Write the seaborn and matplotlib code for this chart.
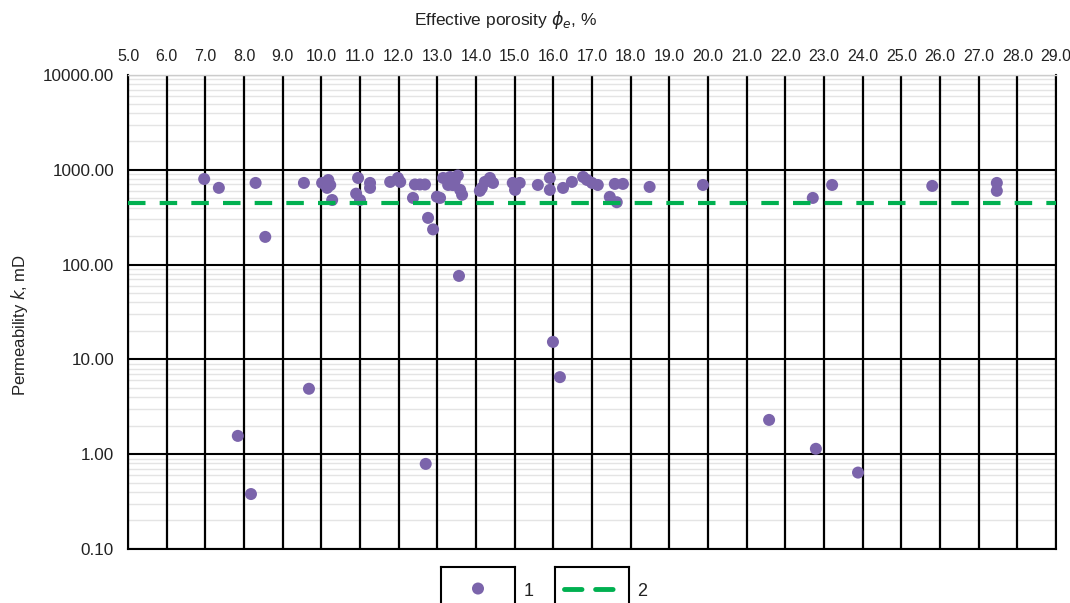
import numpy as np
import pandas as pd
import matplotlib
matplotlib.use("Agg")
import matplotlib.pyplot as plt
import seaborn as sns

# ---- data ----
porosity = [6.97, 7.35, 8.30, 8.55, 7.84, 8.18, 9.55, 9.68,
            10.02, 10.18, 10.23, 10.15, 10.28, 10.95, 10.90, 11.00,
            11.26, 11.26, 11.78, 11.98, 12.04, 12.42, 12.55, 12.68, 12.37,
            12.76, 12.89, 12.70, 13.56, 12.99, 13.07, 13.15, 13.33, 13.53,
            13.40, 13.59, 13.64, 13.28, 13.45, 14.10, 14.15, 14.23, 14.36, 14.44,
            14.95, 15.01, 15.13, 15.60, 15.91, 15.91, 16.25, 16.48, 16.77,
            16.87, 17.00, 17.15, 17.46, 17.64, 17.59, 17.80, 18.49, 19.87,
            15.99, 16.17, 21.58, 22.71, 22.79, 23.21, 23.88, 25.80, 27.47, 27.47]
permeability = [800, 645, 727, 196, 1.56, 0.38, 727, 4.9,
                727, 780, 690, 645, 480, 820, 560, 480,
                727, 645, 745, 820, 745, 700, 700, 700, 505,
                311, 235, 0.79, 76, 520, 505, 820, 840, 870,
                690, 614, 545, 692, 760, 600, 644, 745, 820, 727,
                727, 614, 727, 692, 820, 614, 644, 745, 841,
                782, 727, 692, 518, 455, 710, 710, 660, 692,
                15.3, 6.5, 2.3, 505, 1.14, 692, 0.64, 676, 727, 600]
k_cutoff = 450
x_ticks = np.arange(5, 30, 1)
y_ticks = [0.1, 1, 10, 100, 1000, 10000]
legend_labels = ["1", "2"]

purple = "#7B64AB"
green = "#00B050"

sns.set_style("white")
plt.rcParams["font.family"] = ["Liberation Sans", "DejaVu Sans"]

fig = plt.figure(figsize=(10.70, 6.03), dpi=100)
ax = fig.add_axes([128/1070, 1 - 549/603, (1056-128)/1070, (549-75)/603])

df = pd.DataFrame({"phi": porosity, "k": permeability})
ax.set_yscale("log")
ax.set_xlim(5, 29)
ax.set_ylim(0.1, 10000)

# grid
ax.set_axisbelow(True)
ax.yaxis.set_minor_locator(matplotlib.ticker.LogLocator(base=10, subs=np.arange(2, 10)))
ax.grid(which="minor", axis="y", color="#e4e4e4", lw=1.0)
ax.grid(False, axis="x")
for xv in x_ticks:
    ax.axvline(xv, color="black", lw=1.6, zorder=1.2)
for yv in y_ticks:
    ax.axhline(yv, color="black", lw=1.5, zorder=1.2)

sns.scatterplot(data=df, x="phi", y="k", ax=ax, color=purple, s=75,
                edgecolor="none", linewidth=0, zorder=3, legend=False)
ax.axhline(k_cutoff, color=green, lw=3, dashes=(4.2, 3.4), zorder=4)

# ticks
ax.xaxis.tick_top()
ax.set_xticks(x_ticks)
ax.set_xticklabels([f"{v:.1f}" for v in x_ticks], fontsize=11.5)
ax.set_yticks(y_ticks)
ax.set_yticklabels([f"{v:.2f}" for v in y_ticks], fontsize=12.3)
ax.tick_params(axis="x", which="both", length=0, pad=8, colors="#222222")
ax.tick_params(axis="y", which="both", length=0, pad=10, colors="#222222")
ax.tick_params(axis="y", which="minor", labelleft=False)
ax.set_xlabel("")
ax.set_ylabel("")

for s in ["left", "right", "bottom"]:
    ax.spines[s].set_color("black")
    ax.spines[s].set_linewidth(1.5)
ax.spines["top"].set_color("#cccccc")
ax.spines["top"].set_linewidth(1.0)

fig.text(597/1070, 1 - 20/603, r"Effective porosity $\phi_e$, %", ha="right",
         va="center", fontsize=12.5, color="#222222")
fig.text(20/1070, 1 - 325/603, r"Permeability $k$, mD", ha="center",
         va="center", rotation=90, fontsize=12, color="#222222")

# legend boxes
lax1 = fig.add_axes([441/1070, -0.012, 74/1070, 0.072])
lax1.scatter([0.5], [0.5], color=purple, s=75, edgecolor="none")
lax2 = fig.add_axes([555/1070, -0.012, 74/1070, 0.072])
lax2.plot([0.12, 0.88], [0.5, 0.5], color=green, lw=3.5, dashes=(3.6, 2.8),
          solid_capstyle="round", dash_capstyle="round")
for lx in (lax1, lax2):
    lx.set_xlim(0, 1)
    lx.set_ylim(0, 1)
    lx.set_xticks([])
    lx.set_yticks([])
    for s in lx.spines.values():
        s.set_color("black")
        s.set_linewidth(1.5)
        s.set_visible(True)
fig.text(524/1070, 1 - 592/603, legend_labels[0], ha="left", va="center", fontsize=13, color="#222222")
fig.text(637/1070, 1 - 592/603, legend_labels[1], ha="left", va="center", fontsize=13, color="#222222")

fig.savefig("out.png", dpi=100)
